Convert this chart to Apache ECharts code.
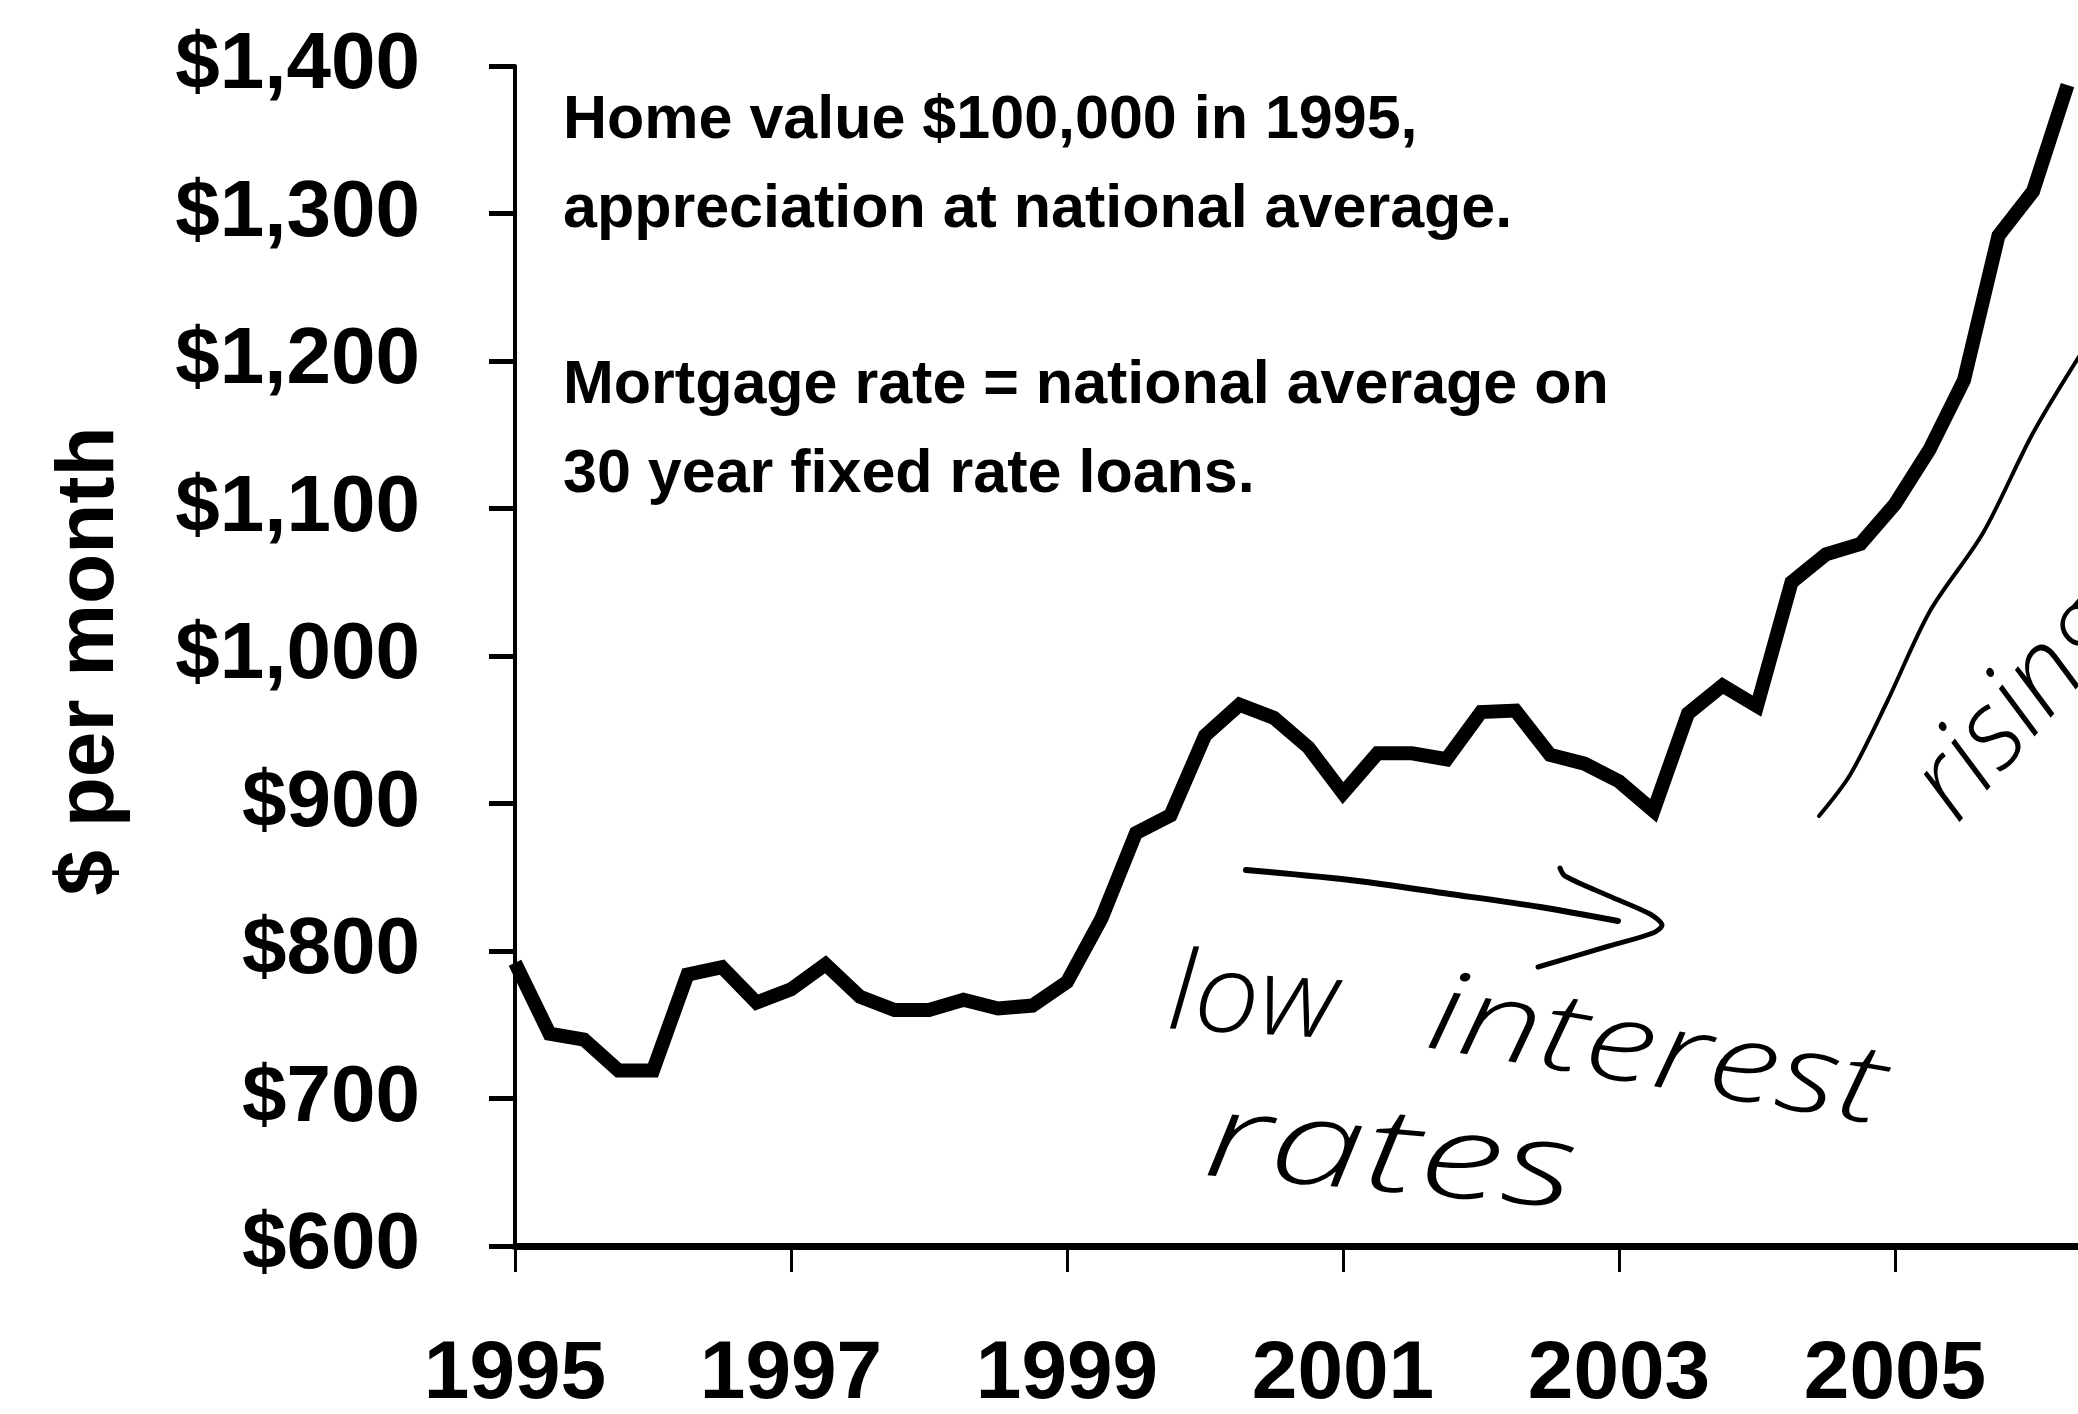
<!DOCTYPE html>
<html>
<head>
<meta charset="utf-8">
<script src="https://cdn.jsdelivr.net/npm/echarts@6/dist/echarts.min.js"></script>
<style>
html,body{margin:0;padding:0;background:#fff;}
#chart{width:2078px;height:1414px;}
</style>
</head>
<body>
<div id="chart"></div>
<script>
// Quarterly time points (decimal years)
var quarters = [
  1995.00, 1995.25, 1995.50, 1995.75,
  1996.00, 1996.25, 1996.50, 1996.75,
  1997.00, 1997.25, 1997.50, 1997.75,
  1998.00, 1998.25, 1998.50, 1998.75,
  1999.00, 1999.25, 1999.50, 1999.75,
  2000.00, 2000.25, 2000.50, 2000.75,
  2001.00, 2001.25, 2001.50, 2001.75,
  2002.00, 2002.25, 2002.50, 2002.75,
  2003.00, 2003.25, 2003.50, 2003.75,
  2004.00, 2004.25, 2004.50, 2004.75,
  2005.00, 2005.25, 2005.50, 2005.75,
  2006.00, 2006.25
];
// Monthly payment ($ per month)
var payments = [
  792, 744, 740, 719,
  719, 784, 789, 765,
  774, 791, 769, 760,
  760, 767, 761, 763,
  779, 822, 880, 892,
  946, 967, 958, 938,
  907, 934, 934, 930,
  962, 963, 933, 927,
  915, 895, 961, 980,
  966, 1050, 1069, 1076,
  1103, 1140, 1187, 1285,
  1315, 1387
];
var yTicks = [600, 700, 800, 900, 1000, 1100, 1200, 1300, 1400];
var yAxisTitle = '$ per month';
var noteLines = [
  'Home value $100,000 in 1995,',
  'appreciation at national average.',
  'Mortgage rate = national average on',
  '30 year fixed rate loans.'
];
var handNotes = ['low', 'interest', 'rates', 'rising'];

var seriesData = quarters.map(function (q, i) { return [q, payments[i]]; });

var FONT = '"Liberation Sans", Arial, sans-serif';
var HAND = '"Open Sans", "DejaVu Sans", sans-serif';

var chart = echarts.init(document.getElementById('chart'), null, {renderer: 'canvas'});

var option = {
  backgroundColor: '#ffffff',
  animation: false,
  grid: {left: 515, top: 66, width: 1656, height: 1180, outerBoundsMode: 'none', containLabel: false},
  xAxis: {
    type: 'value',
    min: 1995,
    max: 2007,
    interval: 2,
    splitLine: {show: false},
    axisLine: {show: true, lineStyle: {color: '#000', width: 7}},
    axisTick: {show: true, length: 26, lineStyle: {color: '#000', width: 3}},
    axisLabel: {
      show: true, margin: 88, color: '#000',
      fontSize: 82, fontWeight: 'bold', fontFamily: FONT,
      hideOverlap: false,
      formatter: function (v) { return String(v); }
    }
  },
  yAxis: {
    type: 'value',
    min: yTicks[0],
    max: yTicks[yTicks.length - 1],
    interval: 100,
    splitLine: {show: false},
    axisLine: {show: true, lineStyle: {color: '#000', width: 4}},
    axisTick: {show: true, inside: false, length: 26, lineStyle: {color: '#000', width: 5}},
    axisLabel: {
      show: true, margin: 95, color: '#000',
      fontSize: 80, fontWeight: 'bold', fontFamily: FONT,
      formatter: function (v) { return '$' + v.toLocaleString('en-US'); }
    }
  },
  series: [{
    type: 'line',
    data: seriesData,
    showSymbol: false,
    symbol: 'none',
    lineStyle: {color: '#000', width: 14, join: 'miter', cap: 'butt'},
    clip: true,
    z: 3
  }],
  graphic: [
    {type: 'text', x: 90, y: 661, rotation: Math.PI / 2,
      style: {text: yAxisTitle, fill: '#000', fontSize: 82, fontWeight: 'bold', fontFamily: FONT,
        textAlign: 'center', textVerticalAlign: 'middle'}},
    {type: 'text', x: 563, y: 121,
      style: {text: noteLines[0], fill: '#000', fontSize: 61, fontWeight: 'bold', fontFamily: FONT,
        textAlign: 'left', textVerticalAlign: 'middle'}},
    {type: 'text', x: 563, y: 210,
      style: {text: noteLines[1], fill: '#000', fontSize: 61, fontWeight: 'bold', fontFamily: FONT,
        textAlign: 'left', textVerticalAlign: 'middle'}},
    {type: 'text', x: 563, y: 386,
      style: {text: noteLines[2], fill: '#000', fontSize: 61, fontWeight: 'bold', fontFamily: FONT,
        textAlign: 'left', textVerticalAlign: 'middle'}},
    {type: 'text', x: 563, y: 475,
      style: {text: noteLines[3], fill: '#000', fontSize: 61, fontWeight: 'bold', fontFamily: FONT,
        textAlign: 'left', textVerticalAlign: 'middle'}},
    // handwritten notes
    {type: 'text', x: 1165, y: 1052, rotation: -0.06, scaleX: 1.05,
      style: {text: handNotes[0], fill: '#000', fontSize: 110, fontStyle: 'italic', fontWeight: 300, fontFamily: HAND,
        textAlign: 'left', textVerticalAlign: 'bottom'}},
    {type: 'text', x: 1420, y: 1070, rotation: -0.17, scaleX: 1.3,
      style: {text: handNotes[1], fill: '#000', fontSize: 110, fontStyle: 'italic', fontWeight: 300, fontFamily: HAND,
        textAlign: 'left', textVerticalAlign: 'bottom'}},
    {type: 'text', x: 1200, y: 1200, rotation: -0.09, scaleX: 1.45,
      style: {text: handNotes[2], fill: '#000', fontSize: 118, fontStyle: 'italic', fontWeight: 300, fontFamily: HAND,
        textAlign: 'left', textVerticalAlign: 'bottom'}},
    {type: 'text', x: 1975, y: 840, rotation: 0.85,
      style: {text: handNotes[3], fill: '#000', fontSize: 110, fontStyle: 'italic', fontWeight: 300, fontFamily: HAND,
        textAlign: 'left', textVerticalAlign: 'bottom'}},
    // arrow shaft
    {type: 'polyline',
      shape: {points: [[1246, 870], [1350, 880], [1450, 894], [1540, 907], [1618, 921]], smooth: 0.3},
      style: {stroke: '#000', lineWidth: 6, fill: null, lineCap: 'round'}},
    // arrow head
    {type: 'polyline',
      shape: {points: [[1560, 868], [1565, 876], [1609, 896], [1650, 914], [1662, 925], [1653, 933], [1609, 946], [1538, 967]], smooth: 0.3},
      style: {stroke: '#000', lineWidth: 5, fill: null, lineCap: 'round'}},
    // rising line
    {type: 'polyline',
      shape: {points: [[1819, 816], [1850, 775], [1887, 702], [1930, 611], [1983, 533], [2033, 433], [2080, 355]], smooth: 0.3},
      style: {stroke: '#000', lineWidth: 4, fill: null, lineCap: 'round'}}
  ]
};
chart.setOption(option);
</script>
</body>
</html>
